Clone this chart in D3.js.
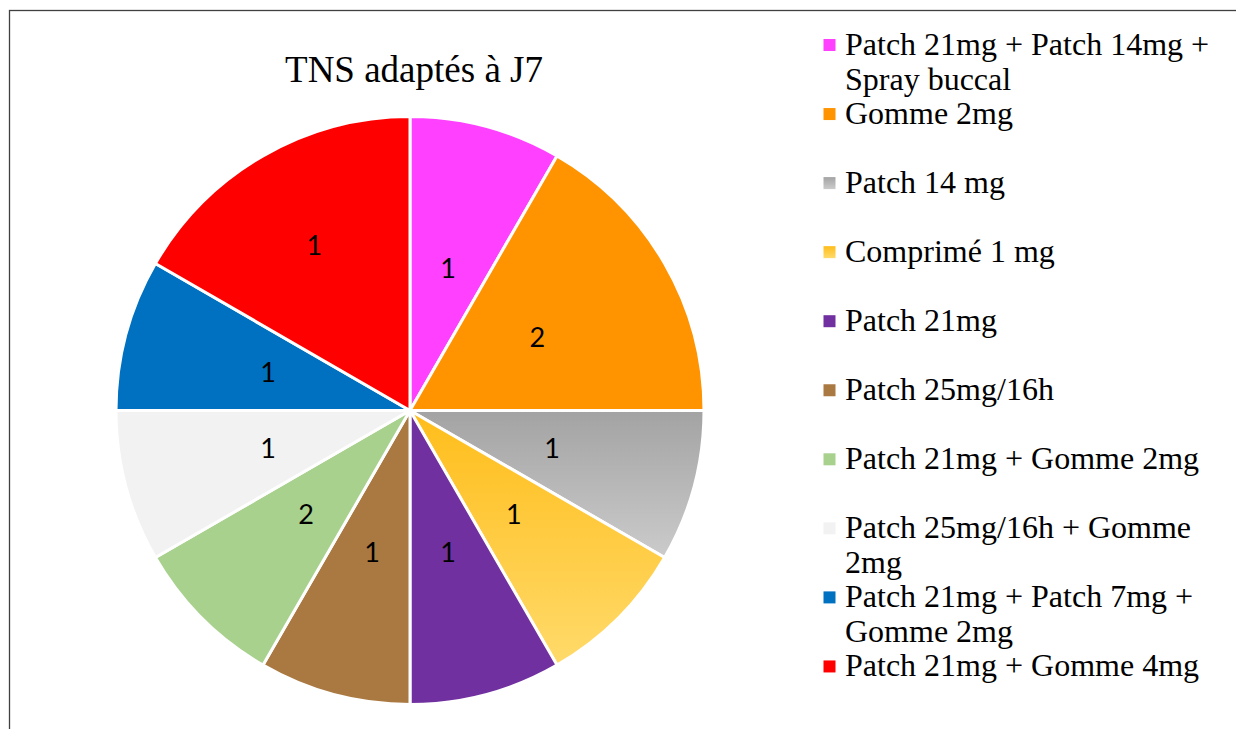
<!DOCTYPE html>
<html>
<head>
<meta charset="utf-8">
<script src="https://cdn.jsdelivr.net/npm/d3@7"></script>
<style>
  body { margin: 0; background: #fff; }
  svg { display: block; }
</style>
</head>
<body>
<svg></svg>
<script>
const width = 1236;
const height = 729;

// data
const categories = [
  'Patch 21mg + Patch 14mg + Spray buccal',
  'Gomme 2mg',
  'Patch 14 mg',
  'Comprimé 1 mg',
  'Patch 21mg',
  'Patch 25mg/16h',
  'Patch 21mg + Gomme 2mg',
  'Patch 25mg/16h + Gomme 2mg',
  'Patch 21mg + Patch 7mg + Gomme 2mg',
  'Patch 21mg + Gomme 4mg'
];
// slice sizes as drawn
const values = [1, 2, 1, 1, 1, 1, 1, 1, 1, 2];
// numbers printed on the slices
const labelValues = [1, 2, 1, 1, 1, 1, 2, 1, 1, 1];
const colors = ['#ff40ff', '#ff9300', 'url(#gGrey)', 'url(#gGold)', '#7030a0',
  '#aa7941', '#a9d18e', '#f2f2f2', '#0070c0', '#ff0000'];

const svg = d3.select('svg')
  .attr('width', width)
  .attr('height', height);

const defs = svg.append('defs');
function grad(id, top, bottom) {
  const g = defs.append('linearGradient')
    .attr('id', id)
    .attr('x1', 0).attr('y1', 0)
    .attr('x2', 0).attr('y2', 1);
  g.append('stop').attr('offset', '0%').attr('stop-color', top);
  g.append('stop').attr('offset', '100%').attr('stop-color', bottom);
}
grad('gGrey', '#a3a3a3', '#cbcbcb');
grad('gGold', '#ffbd1a', '#ffda6a');

// frame
svg.append('rect')
  .attr('x', 9.5).attr('y', 10.5)
  .attr('width', 1240).attr('height', 740)
  .attr('fill', 'none')
  .attr('stroke', '#404040')
  .attr('stroke-width', 1.3);

// title
svg.append('text')
  .attr('x', 414)
  .attr('y', 82)
  .attr('text-anchor', 'middle')
  .style('font-family', '"Liberation Serif", "Times New Roman", serif')
  .style('font-size', '37px')
  .text('TNS adaptés à J7');

// pie
const cx = 410, cy = 410.5, radius = 294;

const pie = d3.pie().sort(null).value(d => d);
const arcs = pie(values);
const arc = d3.arc().innerRadius(0).outerRadius(radius);

const g = svg.append('g').attr('transform', `translate(${cx},${cy})`);

g.selectAll('path')
  .data(arcs)
  .enter().append('path')
    .attr('d', arc)
    .attr('fill', (d, i) => colors[i])
    .attr('stroke', '#fff')
    .attr('stroke-width', 3)
    .attr('stroke-linejoin', 'round');

g.selectAll('text.lbl')
  .data(arcs)
  .enter().append('text')
    .attr('class', 'lbl')
    .attr('transform', (d, i) => {
      const r = i === 9 ? radius * 0.65 : radius * 0.5;
      const a = (d.startAngle + d.endAngle) / 2;
      return `translate(${Math.sin(a) * r},${-Math.cos(a) * r})`;
    })
    .attr('text-anchor', 'middle')
    .attr('dy', '0.36em')
    .style('font-family', 'Lato, "Open Sans", sans-serif')
    .style('font-size', '27px')
    .style('fill', '#000')
    .text((d, i) => labelValues[i]);

// legend
const legend = svg.append('g');
const lx = 845, ly0 = 55, step = 69.05, lineH = 35, maxW = 385;

categories.forEach((name, i) => {
  const y = ly0 + i * step;
  legend.append('rect')
    .attr('x', 823.5).attr('y', y - 16)
    .attr('width', 12).attr('height', 12)
    .attr('fill', colors[i]);

  const t = legend.append('text')
    .attr('x', lx).attr('y', y)
    .style('font-family', '"Liberation Serif", "Times New Roman", serif')
    .style('font-size', '32px');

  // word wrap
  const words = name.split(' ');
  let line = [];
  let tspan = t.append('tspan').attr('x', lx).attr('y', y);
  let lineNo = 0;
  words.forEach(w => {
    line.push(w);
    tspan.text(line.join(' '));
    if (tspan.node().getComputedTextLength() > maxW && line.length > 1) {
      line.pop();
      tspan.text(line.join(' '));
      line = [w];
      lineNo++;
      tspan = t.append('tspan').attr('x', lx).attr('y', y + lineNo * lineH).text(w);
    }
  });
});
</script>
</body>
</html>
